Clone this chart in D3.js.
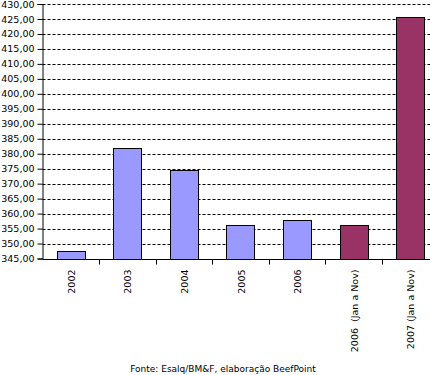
<!DOCTYPE html>
<html>
<head>
<meta charset="utf-8">
<script src="https://cdn.jsdelivr.net/npm/d3@7"></script>
<style>
	body { margin: 0; background: #fff; }
	svg { display: block; font-family: "DejaVu Sans", Verdana, sans-serif; }
</style>
</head>
<body>
<div id="chart"></div>
<script>
var categories = ['2002', '2003', '2004', '2005', '2006', '2006  (Jan a Nov)', '2007 (Jan a Nov)']
var values = [347.4, 382.0, 374.7, 356.3, 358.0, 356.3, 425.8]
var highlighted = [false, false, false, false, false, true, true]
var yTicks = d3.range(345, 430.1, 5)
var source = 'Fonte: Esalq/BM&F, elaboração BeefPoint'

makeChart('#chart')

function makeChart(div) {
	var width = 430
	var height = 375

	var margin = {
		'top' : 4,
		'left' : 42.5,
		'bottom' : 116.5
	}

	var svg = d3.select(div).append('svg')
		.attr('width', width)
		.attr('height', height)

	var yScale = d3.scaleLinear()
		.domain([345, 430])
		.range([height - margin.bottom, margin.top])

	var xScale = d3.scaleBand()
		.domain(categories)
		.range([margin.left, margin.left + 396])
		.paddingInner(0.5)
		.paddingOuter(0.25)

	// dashed gridlines
	svg.append('g').selectAll('line')
		.data(yTicks.slice(1))
		.enter().append('line')
		.attr('x1', margin.left)
		.attr('x2', width)
		.attr('y1', function(d) { return Math.round(yScale(d)) + 0.5 })
		.attr('y2', function(d) { return Math.round(yScale(d)) + 0.5 })
		.attr('stroke', '#000')
		.attr('stroke-dasharray', '3,2')

	// bars
	svg.append('g').selectAll('rect')
		.data(values)
		.enter().append('rect')
		.attr('x', function(d, i) { return Math.round(xScale(categories[i])) + 0.5 })
		.attr('width', Math.round(xScale.bandwidth()))
		.attr('y', function(d) { return Math.round(yScale(d)) + 0.5 })
		.attr('height', function(d) { return Math.round(yScale(345)) - Math.round(yScale(d)) })
		.attr('fill', function(d, i) { return highlighted[i] ? '#993366' : '#9999ff' })
		.attr('stroke', '#000')
		.attr('stroke-width', 1)

	// y axis
	var yAxis = svg.append('g')
		.attr('transform', 'translate(' + margin.left + ',0)')
		.call(
			d3.axisLeft()
				.scale(yScale)
				.tickValues(yTicks)
				.tickSize(5)
				.tickPadding(3)
				.tickFormat(function(d) { return d3.format('.2f')(d).replace('.', ',') })
		)
	yAxis.select('.domain').attr('stroke', '#000')
	yAxis.selectAll('text')
		.style('font-family', '"DejaVu Sans", Verdana, sans-serif')
		.style('font-size', '9.5px')
		.attr('fill', '#000')

	// x axis: ticks on band boundaries
	var xAxisY = Math.round(yScale(345)) + 0.5
	svg.append('line')
		.attr('x1', margin.left)
		.attr('x2', width)
		.attr('y1', xAxisY)
		.attr('y2', xAxisY)
		.attr('stroke', '#000')

	var step = xScale.step()
	svg.append('g').selectAll('line')
		.data(categories)
		.enter().append('line')
		.attr('x1', function(d) { return Math.round(xScale(d) + xScale.bandwidth() / 2 + step / 2) + 0.5 })
		.attr('x2', function(d) { return Math.round(xScale(d) + xScale.bandwidth() / 2 + step / 2) + 0.5 })
		.attr('y1', xAxisY)
		.attr('y2', xAxisY + 5)
		.attr('stroke', '#000')

	svg.append('g').selectAll('text')
		.data(categories)
		.enter().append('text')
		.attr('transform', function(d) {
			return 'translate(' + (xScale(d) + xScale.bandwidth() / 2 + 4) + ',' + (xAxisY + 10) + ') rotate(-90)'
		})
		.style('text-anchor', 'end')
		.style('font-size', '9.5px')
		.style('white-space', 'pre')
		.attr('fill', '#000')
		.text(function(d) { return d })

	svg.append('text')
		.attr('x', 223)
		.attr('y', 372)
		.style('text-anchor', 'middle')
		.style('font-size', '9px')
		.attr('fill', '#000')
		.text(source)
}
</script>
</body>
</html>
